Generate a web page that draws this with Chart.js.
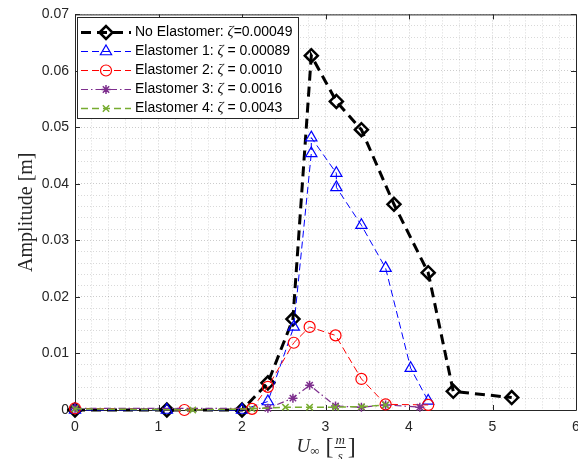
<!DOCTYPE html>
<html><head><meta charset="utf-8">
<script src="https://cdn.jsdelivr.net/npm/chart.js@4/dist/chart.umd.min.js"></script>
<style>html,body{margin:0;padding:0;background:#fff;overflow:hidden}#wrap{width:600px;height:459px}</style>
</head><body><div id="wrap"><canvas id="c" width="600" height="459"></canvas></div>
<script>
// ---- data ----
const seriesLabels = ['No Elastomer: ', 'Elastomer 1: ', 'Elastomer 2: ', 'Elastomer 3: ', 'Elastomer 4: '];
const zetaTexts = ['=0.00049', ' = 0.00089', ' = 0.0010', ' = 0.0016', ' = 0.0043'];
const noElastomerX = [0, 1.1, 2.0, 2.31, 2.61, 2.83, 3.13, 3.43, 3.82, 4.23, 4.53, 5.23];
const noElastomerY = [0, 0, 0, 0.0048, 0.0161, 0.0627, 0.0546, 0.0496, 0.0364, 0.0243, 0.0033, 0.0022];
const elast1X = [0, 1.1, 2.0, 2.31, 2.62, 2.83, 2.83, 3.13, 3.13, 3.43, 3.72, 4.02, 4.23];
const elast1Y = [0, 0, 0, 0.0015, 0.0147, 0.0454, 0.0482, 0.0419, 0.0394, 0.0327, 0.0251, 0.0074, 0.0016];
const elast2X = [0, 1.31, 2.12, 2.31, 2.62, 2.81, 3.12, 3.43, 3.72, 4.23];
const elast2Y = [0.0003, 0, 0.0002, 0.0041, 0.0119, 0.0147, 0.0132, 0.0055, 0.0010, 0.0009];
const elast3X = [0, 2.31, 2.61, 2.81, 3.12, 3.43, 3.72, 4.13];
const elast3Y = [0.0003, 0.0003, 0.0021, 0.0044, 0.0007, 0.0005, 0.0009, 0.0005];
const elast4X = [0, 1.41, 2.12, 2.52, 2.81, 3.12, 3.43, 3.72];
const elast4Y = [0.0002, 0, 0.0002, 0.0005, 0.0005, 0.0005, 0.0006, 0.0009];
const xTickValues = [0, 1, 2, 3, 4, 5, 6];
const yTickValues = [0, 0.01, 0.02, 0.03, 0.04, 0.05, 0.06, 0.07];

const pts = (xs, ys) => xs.map((x, i) => ({x, y: ys[i]}));
const styles = [
  {color:'#000000', width:3, dash:[10,6], marker:'rectRot', r:6.5, mw:2.5},
  {color:'#0000ff', width:1, dash:[7,4], marker:'triangle', r:6.5, mw:1.2},
  {color:'#ff0000', width:1, dash:[7,4], marker:'circle', r:5.5, mw:1.2},
  {color:'#7e2f8e', width:1.2, dash:[7,3,1.5,3], marker:'star', r:4.5, mw:1.5},
  {color:'#77ac30', width:1.5, dash:[7,4], marker:'crossRot', r:4.5, mw:1.5}
];
const seriesData = [pts(noElastomerX,noElastomerY), pts(elast1X,elast1Y), pts(elast2X,elast2Y), pts(elast3X,elast3Y), pts(elast4X,elast4Y)];

const datasets = seriesData.map((d, i) => ({
  label: seriesLabels[i] + 'ζ' + zetaTexts[i],
  data: d, showLine: true, clip: false, order: 5 - i,
  borderColor: styles[i].color, borderWidth: styles[i].width, borderDash: styles[i].dash,
  pointStyle: styles[i].marker, pointRadius: styles[i].r, pointBorderWidth: styles[i].mw,
  pointBorderColor: styles[i].color, pointBackgroundColor: 'rgba(0,0,0,0)', pointHoverRadius: styles[i].r,
  tension: 0
}));

const AX = '#262626';
function drawMarker(ctx, style, x, y, r) {
  ctx.beginPath();
  if (style === 'rectRot') { ctx.moveTo(x-r,y); ctx.lineTo(x,y-r); ctx.lineTo(x+r,y); ctx.lineTo(x,y+r); ctx.closePath(); }
  else if (style === 'triangle') { for (let k=0;k<3;k++){const a=k*2*Math.PI/3; const px=x+Math.sin(a)*r, py=y-Math.cos(a)*r; k?ctx.lineTo(px,py):ctx.moveTo(px,py);} ctx.closePath(); }
  else if (style === 'circle') { ctx.arc(x,y,r,0,Math.PI*2); }
  else if (style === 'star') { ctx.moveTo(x-r,y);ctx.lineTo(x+r,y);ctx.moveTo(x,y-r);ctx.lineTo(x,y+r); const d=r*Math.SQRT1_2; ctx.moveTo(x-d,y-d);ctx.lineTo(x+d,y+d);ctx.moveTo(x-d,y+d);ctx.lineTo(x+d,y-d); }
  else if (style === 'crossRot') { const d=r*Math.SQRT1_2; ctx.moveTo(x-d,y-d);ctx.lineTo(x+d,y+d);ctx.moveTo(x-d,y+d);ctx.lineTo(x+d,y-d); }
  ctx.stroke();
}

const framePlugin = {
  id: 'frame',
  beforeDatasetsDraw(chart) {
    const {ctx, chartArea: a, scales} = chart;
    ctx.save();
    ctx.strokeStyle = AX; ctx.lineWidth = 1; ctx.setLineDash([]);
    ctx.beginPath();
    ctx.moveTo(a.left+0.5, a.top+0.5); ctx.lineTo(a.left+0.5, a.bottom+0.5);
    ctx.lineTo(a.right+0.5, a.bottom+0.5); ctx.lineTo(a.right+0.5, a.top+0.5); ctx.closePath();
    xTickValues.forEach(v => { const px = Math.round(scales.x.getPixelForValue(v))+0.5;
      ctx.moveTo(px, a.bottom); ctx.lineTo(px, a.bottom-5); ctx.moveTo(px, a.top); ctx.lineTo(px, a.top+5); });
    yTickValues.forEach(v => { const py = Math.round(scales.y.getPixelForValue(v))+0.5;
      ctx.moveTo(a.left, py); ctx.lineTo(a.left+5, py); ctx.moveTo(a.right, py); ctx.lineTo(a.right-5, py); });
    ctx.stroke();
    // y title
    ctx.fillStyle = AX;
    ctx.save();
    ctx.translate(27, (a.top + a.bottom)/2);
    ctx.rotate(-Math.PI/2);
    ctx.font = '20px "Liberation Serif"';
    ctx.textAlign = 'center'; ctx.textBaseline = 'middle';
    ctx.fillText('Amplitude [m]', 0, 0);
    ctx.restore();
    // x title: U∞ [m/s]
    const cx = (a.left + a.right)/2, by = 452;
    ctx.textBaseline = 'alphabetic'; ctx.textAlign = 'left';
    let x0 = cx - 29;
    ctx.font = 'italic 19px "Liberation Serif"'; ctx.fillText('U', x0, by); x0 += ctx.measureText('U').width;
    ctx.font = '13px "Liberation Serif"'; ctx.fillText('∞', x0, by+3); x0 += ctx.measureText('∞').width + 6;
    ctx.font = '24px "Liberation Serif"'; ctx.fillText('[', x0, by+2); x0 += ctx.measureText('[').width + 2;
    ctx.font = 'italic 13px "Liberation Serif"';
    const mw = ctx.measureText('m').width;
    ctx.fillText('m', x0, by-8);
    ctx.fillRect(x0-1, by-5, mw+2, 1);
    ctx.fillText('s', x0 + (mw - ctx.measureText('s').width)/2, by+8);
    x0 += mw + 3;
    ctx.font = '24px "Liberation Serif"'; ctx.fillText(']', x0, by+2);
    ctx.restore();
  },
  afterDraw(chart) {
    const ctx = chart.ctx;
    ctx.save();
    const bx = 77.5, by = 17.5, bw = 221, bh = 101;
    ctx.fillStyle = '#fff'; ctx.fillRect(bx, by, bw, bh);
    ctx.strokeStyle = AX; ctx.lineWidth = 1; ctx.setLineDash([]); ctx.strokeRect(bx, by, bw, bh);
    for (let i = 0; i < 5; i++) {
      const y = 32.5 + i*19, s = styles[i];
      ctx.strokeStyle = s.color; ctx.lineWidth = s.width; ctx.setLineDash(s.dash);
      ctx.beginPath(); ctx.moveTo(81, y); ctx.lineTo(131, y); ctx.stroke();
      ctx.setLineDash([]); ctx.lineWidth = s.mw;
      drawMarker(ctx, s.marker, 106, y, s.r);
      ctx.fillStyle = '#000'; ctx.textBaseline = 'middle'; ctx.textAlign = 'left';
      let tx = 135;
      ctx.font = '14px "Liberation Sans"'; ctx.fillText(seriesLabels[i], tx, y); tx += ctx.measureText(seriesLabels[i]).width;
      ctx.font = 'italic 15px "Liberation Serif"'; ctx.fillText('ζ', tx, y); tx += ctx.measureText('ζ').width;
      ctx.font = '14px "Liberation Sans"'; ctx.fillText(zetaTexts[i], tx, y);
    }
    ctx.restore();
  }
};

const gridColor = (ctx, step) => {
  const v = ctx.tick ? ctx.tick.value : 0;
  const k = Math.round(v / step);
  return (Math.abs(v/step - k) < 1e-6) ? 'rgba(0,0,0,0.2)' : 'rgba(0,0,0,0.15)';
};

new Chart(document.getElementById('c'), {
  type: 'scatter',
  data: { datasets },
  plugins: [framePlugin],
  options: {
    responsive: false, animation: false, devicePixelRatio: 1, events: [],
    layout: { padding: { top: 14, right: 24, left: 0, bottom: 0 } },
    plugins: { legend: { display: false }, tooltip: { enabled: false } },
    scales: {
      x: {
        type: 'linear', min: 0, max: 6,
        afterBuildTicks: s => { s.ticks = Array.from({length: 31}, (_, i) => ({value: i/5})); },
        afterFit: s => { s.height = 49; },
        ticks: { autoSkip: false, maxRotation: 0, minRotation: 0, padding: 9, color: AX,
          font: { family: '"Liberation Sans"', size: 14 },
          callback: v => { const k = Math.round(v*5); return k % 5 === 0 ? String(k/5) : ''; } },
        grid: { drawTicks: false, color: c => gridColor(c, 1), lineWidth: 1 },
        border: { display: false, dash: [1, 2] }
      },
      y: {
        type: 'linear', min: 0, max: 0.07,
        afterBuildTicks: s => { s.ticks = Array.from({length: 36}, (_, i) => ({value: i*0.002})); },
        afterFit: s => { s.width = 75; },
        ticks: { autoSkip: false, padding: 6, color: AX,
          font: { family: '"Liberation Sans"', size: 14 },
          callback: v => { const k = Math.round(v/0.002); if (k % 5) return ''; return k === 0 ? '0' : (k*0.002).toFixed(2); } },
        grid: { drawTicks: false, color: c => gridColor(c, 0.01), lineWidth: 1 },
        border: { display: false, dash: [1, 2] }
      }
    }
  }
});
</script></body></html>
